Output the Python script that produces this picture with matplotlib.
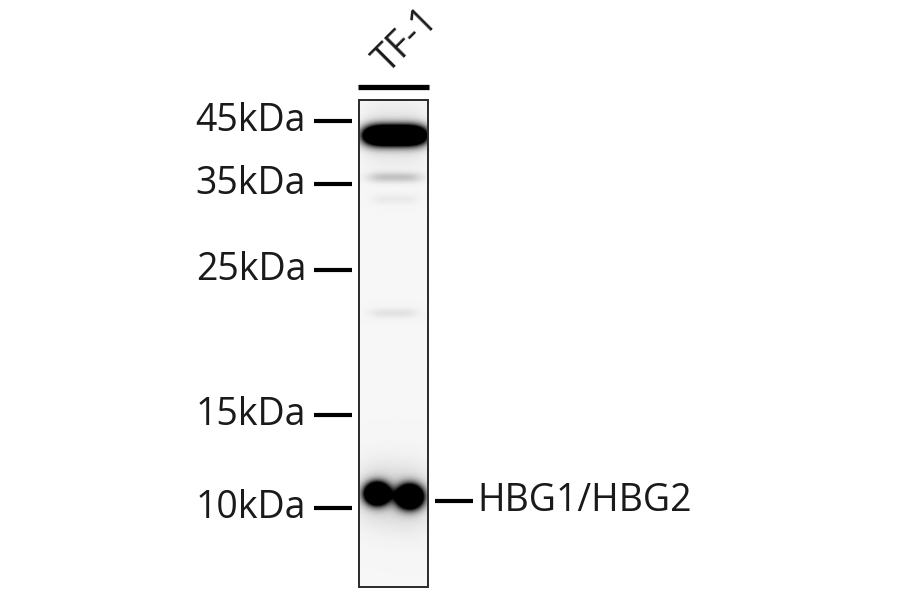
import numpy as np
import matplotlib
matplotlib.use('Agg')
import matplotlib.pyplot as plt
from matplotlib.patches import Rectangle

# marker ladder (label, row in px)
marker_labels = ['45kDa', '35kDa', '25kDa', '15kDa', '10kDa']
marker_rows = [121, 184, 270, 415, 508]

lane_name = 'TF-1'
target_name = 'HBG1/HBG2'
target_row = 501

# bands across the lane: row, left, right, height sigma, strength
band_rows = [135, 177, 199, 313]
band_left = [364, 368, 372, 370]
band_right = [426, 422, 418, 418]
band_sigma = [6.5, 3.5, 3.5, 3.5]
band_strength = [3.0, 0.2, 0.05, 0.08]

# spots of the doublet: row, col, sigma x, sigma y, strength
spot_rows = [494, 497]
spot_cols = [377, 410]
spot_sx = [8.0, 8.5]
spot_sy = [7.0, 7.5]
spot_strength = [3.2, 3.2]

lane_x0, lane_x1 = 359, 428
lane_y0, lane_y1 = 100, 587

fig = plt.figure(figsize=(9, 5.94), dpi=100)
ax = fig.add_axes([0, 0, 1, 1])
ax.set_xlim(0, 900)
ax.set_ylim(594, 0)
ax.axis('off')

# render the lane image
xs = np.arange(lane_x0, lane_x1 + 1)
ys = np.arange(lane_y0, lane_y1 + 1)
X, Y = np.meshgrid(xs, ys)
dark = np.full(X.shape, 0.035)
for r, l, rr, s, k in zip(band_rows, band_left, band_right, band_sigma, band_strength):
    xc = (l + rr) / 2
    hw = (rr - l) / 2
    dark += k * np.exp(-((X - xc) / hw) ** 4) * np.exp(-0.5 * ((Y - r) / s) ** 2)
    # soft glow around the strong band
    if k > 1:
        dark += 0.1 * np.exp(-((X - xc) / hw) ** 4) * np.exp(-0.5 * ((Y - r) / (s * 3)) ** 2)
for r, c, sx, sy, k in zip(spot_rows, spot_cols, spot_sx, spot_sy, spot_strength):
    dark += k * np.exp(-0.5 * (((X - c) / sx) ** 2 + ((Y - r) / sy) ** 2))
    # soft halo around the spots
    dark += 0.15 * np.exp(-0.5 * (((X - c) / (sx * 2.0)) ** 2 + ((Y - r) / (sy * 2.8)) ** 2))
dark = np.clip(dark, 0, 1)
ax.imshow(dark, cmap='gray_r', vmin=0, vmax=1,
          extent=(lane_x0, lane_x1, lane_y1, lane_y0), interpolation='bilinear', zorder=1)
ax.add_patch(Rectangle((lane_x0, lane_y0), lane_x1 - lane_x0, lane_y1 - lane_y0,
                       fill=False, edgecolor='#2a2a2a', lw=1.4, zorder=3))

# bar over the lane and lane label
ax.plot([358, 429], [87, 87], color='black', lw=3.8, solid_capstyle='butt')
ax.text(394, 80, lane_name, rotation=45, ha='left', va='bottom',
        fontsize=27, family='Open Sans', color='#1a1a1a', rotation_mode='anchor')

# marker ticks and labels
for lab, r in zip(marker_labels, marker_rows):
    ax.plot([314, 352], [r, r], color='black', lw=3.0, solid_capstyle='butt')
    ax.text(306, r, lab, ha='right', va='center', fontsize=27,
            family='Open Sans', color='#1a1a1a')

# target label
ax.plot([435, 473], [target_row, target_row], color='black', lw=3.0, solid_capstyle='butt')
ax.text(477, target_row, target_name, ha='left', va='center', fontsize=27,
        family='Open Sans', color='#1a1a1a')

fig.savefig('out.png', dpi=100)
